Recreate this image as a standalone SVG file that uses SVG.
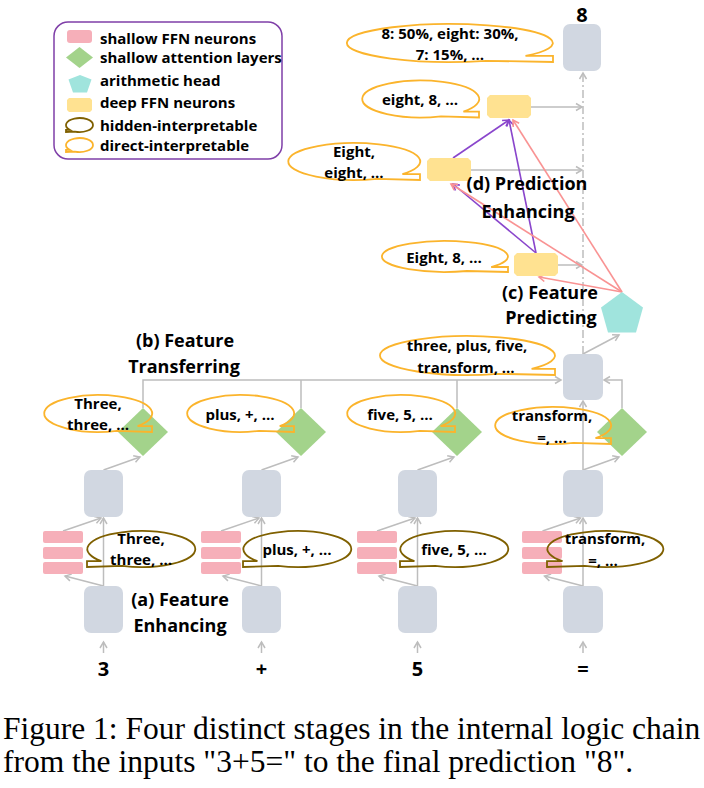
<svg xmlns="http://www.w3.org/2000/svg" width="704" height="788" viewBox="0 0 704 788">
<defs>
<style>
.box{fill:#D1D7E1}
.ffn{fill:#F6AFB9}
.att{fill:#A3D38B}
.deep{fill:#FFE291}
.ar{fill:#A0E4DD}
.dir{fill:none;stroke:#FBB42C;stroke-width:1.8}
.hid{fill:none;stroke:#7F6000;stroke-width:1.8}
.g{fill:none;stroke:#BDBDBD;stroke-width:1.5}
.pu{fill:none;stroke:#8A46CC;stroke-width:1.6}
.pk{fill:none;stroke:#F99393;stroke-width:1.6}
text{font-family:"Open Sans","Liberation Sans",sans-serif;font-weight:bold;fill:#000}
.t{font-size:15px;text-anchor:middle}
.lg{font-size:15px}
.s{font-size:18px;text-anchor:middle}
.io{font-size:20px;text-anchor:middle}
.cap{font-family:"Liberation Serif","Times New Roman",serif;font-weight:normal;font-size:31.5px}
</style>
<marker id="ag" markerWidth="10" markerHeight="10" refX="8" refY="5" orient="auto" markerUnits="userSpaceOnUse"><path d="M2,1.5 L8,5 L2,8.5" fill="none" stroke="#BDBDBD" stroke-width="1.5"/></marker>
<marker id="ap" markerWidth="10" markerHeight="10" refX="8" refY="5" orient="auto" markerUnits="userSpaceOnUse"><path d="M2,1.5 L8,5 L2,8.5" fill="none" stroke="#8A46CC" stroke-width="1.6"/></marker>
<marker id="ak" markerWidth="10" markerHeight="10" refX="8" refY="5" orient="auto" markerUnits="userSpaceOnUse"><path d="M2,1.5 L8,5 L2,8.5" fill="none" stroke="#F99393" stroke-width="1.6"/></marker>
</defs>
<rect width="704" height="788" fill="#fff"/>

<g id="legend">
<rect x="54" y="22" width="228" height="137" rx="14" fill="#fff" stroke="#7F3FA8" stroke-width="1.5"/>
<rect class="ffn" x="67" y="30" width="25" height="13" rx="3"/>
<polygon class="att" points="79.5,47 93,57.5 79.5,68 66,57.5"/>
<polygon class="ar" points="80,75 91.5,79.5 87,92.5 73,92.5 68.5,79.5"/>
<polygon class="deep" points="69,98 90,98 92,100 92,110 90,112 69,112 67,110 67,100"/>
<path class="hid" d="M69.6,129.8 A13.5,7 0 1 1 74.8,131.6 L66,132 L66,129.8 Z"/>
<path class="dir" d="M69.6,149.8 A13.5,7 0 1 1 74.8,151.6 L66,152 L66,149.8 Z"/>
<text class="lg" x="100" y="44">shallow FFN neurons</text>
<text class="lg" x="100" y="63">shallow attention layers</text>
<text class="lg" x="100" y="86">arithmetic head</text>
<text class="lg" x="100" y="108">deep FFN neurons</text>
<text class="lg" x="100" y="131">hidden-interpretable</text>
<text class="lg" x="100" y="151">direct-interpretable</text>
</g>

<g id="connectors">
<g class="g">
<path d="M103.5,653 V642" marker-end="url(#ag)"/>
<path d="M103.5,586 V518" marker-end="url(#ag)"/>
<path d="M103.5,586 L65,576" marker-end="url(#ag)"/>
<path d="M63,531 L101,518" marker-end="url(#ag)"/>
<path d="M103.5,470 L140,457" marker-end="url(#ag)"/>
<path d="M261.5,653 V642" marker-end="url(#ag)"/>
<path d="M261.5,586 V518" marker-end="url(#ag)"/>
<path d="M261.5,586 L223,576" marker-end="url(#ag)"/>
<path d="M221,531 L259,518" marker-end="url(#ag)"/>
<path d="M261.5,470 L298,457" marker-end="url(#ag)"/>
<path d="M417.5,653 V642" marker-end="url(#ag)"/>
<path d="M417.5,586 V518" marker-end="url(#ag)"/>
<path d="M417.5,586 L379,576" marker-end="url(#ag)"/>
<path d="M377,531 L415,518" marker-end="url(#ag)"/>
<path d="M417.5,470 L454,457" marker-end="url(#ag)"/>
<path d="M583,653 V642" marker-end="url(#ag)"/>
<path d="M583,586 V518" marker-end="url(#ag)"/>
<path d="M583,586 L544.5,576" marker-end="url(#ag)"/>
<path d="M542.5,531 L580.5,518" marker-end="url(#ag)"/>
<path d="M583,470 L619,457" marker-end="url(#ag)"/>
<path d="M143,408 V380 H561" marker-end="url(#ag)"/>
<path d="M301,408 V380"/>
<path d="M457,408 V380"/>
<path d="M622,408 V380 H604" marker-end="url(#ag)"/>
<path d="M583,470 V401" marker-end="url(#ag)"/>
<path d="M583,354 L619,335" marker-end="url(#ag)"/>
<path d="M583,354 V73" stroke-dasharray="8,3,2,3" marker-end="url(#ag)"/>
<path d="M531,107 H582" marker-end="url(#ag)"/>
<path d="M471,170 H582" marker-end="url(#ag)"/>
<path d="M558,265 H582" marker-end="url(#ag)"/>
</g>
<g class="pu">
<path d="M453,158 L509,120" marker-end="url(#ap)"/>
<path d="M536,253 L509,120" marker-end="url(#ap)"/>
<path d="M536,253 L453,184" marker-end="url(#ap)"/>
</g>
<g class="pk">
<path d="M622,292 L513,120" marker-end="url(#ak)"/>
<path d="M622,292 L451,184" marker-end="url(#ak)"/>
<path d="M622,292 L539,277" marker-end="url(#ak)"/>
</g>
</g>

<g id="col1">
<rect class="box" x="84" y="586" width="39" height="47" rx="7"/>
<rect class="box" x="84" y="470" width="39" height="47" rx="7"/>
<rect class="ffn" x="43" y="531" width="40" height="12" rx="2"/>
<rect class="ffn" x="43" y="547" width="40" height="12" rx="2"/>
<rect class="ffn" x="43" y="562" width="40" height="12" rx="2"/>
<polygon class="att" points="143,408 168,432 143,456 118,432"/>
</g>
<g id="col2">
<rect class="box" x="242" y="586" width="39" height="47" rx="7"/>
<rect class="box" x="242" y="470" width="39" height="47" rx="7"/>
<rect class="ffn" x="201" y="531" width="40" height="12" rx="2"/>
<rect class="ffn" x="201" y="547" width="40" height="12" rx="2"/>
<rect class="ffn" x="201" y="562" width="40" height="12" rx="2"/>
<polygon class="att" points="301,408 326,432 301,456 276,432"/>
</g>
<g id="col3">
<rect class="box" x="398" y="586" width="39" height="47" rx="7"/>
<rect class="box" x="398" y="470" width="39" height="47" rx="7"/>
<rect class="ffn" x="357" y="531" width="40" height="12" rx="2"/>
<rect class="ffn" x="357" y="547" width="40" height="12" rx="2"/>
<rect class="ffn" x="357" y="562" width="40" height="12" rx="2"/>
<polygon class="att" points="457,408 482,432 457,456 432,432"/>
</g>
<g id="col4">
<rect class="box" x="563" y="586" width="40" height="47" rx="7"/>
<rect class="box" x="563" y="470" width="40" height="47" rx="7"/>
<rect class="ffn" x="522" y="531" width="40" height="12" rx="2"/>
<rect class="ffn" x="522" y="547" width="40" height="12" rx="2"/>
<rect class="ffn" x="522" y="562" width="40" height="12" rx="2"/>
<polygon class="att" points="622,408 647,432 622,456 597,432"/>
</g>
<g id="upper-box"><rect class="box" x="563" y="354" width="40" height="46" rx="7"/></g>
<g id="final-box"><rect class="box" x="563" y="24" width="38" height="47" rx="7"/></g>
<g id="arith-head"><polygon class="ar" points="622,292 643,307.5 636,332.5 608,332.5 601,307.5"/></g>
<g id="deep1"><polygon class="deep" points="490,95 528,95 531,98 531,115 528,118 490,118 487,115 487,98"/></g>
<g id="deep2"><polygon class="deep" points="430,158 468,158 471,161 471,178 468,181 430,181 427,178 427,161"/></g>
<g id="deep3"><polygon class="deep" points="517,253 555,253 558,256 558,273 555,276 517,276 514,273 514,256"/></g>

<g id="balloons-direct">
<path class="dir" d="M525.5,55.9 A103,19 0 1 0 486,60.8 L553,62 L553,55.9 Z"/>
<path class="dir" d="M463.4,111.6 A58.5,18.5 0 1 0 441,116.3 L479,117.5 L479,111.6 Z"/>
<path class="dir" d="M402.4,174.1 A66,18.5 0 1 0 377.1,178.8 L420,180 L420,174.1 Z"/>
<path class="dir" d="M491.2,267 A63,15.5 0 1 0 467,271 L508,272 L508,267 Z"/>
<path class="dir" d="M531.6,368.8 A87.5,19.5 0 1 0 498.1,373.8 L555,375 L555,368.8 Z"/>
<path class="dir" d="M137.6,426.1 A54,18.5 0 1 0 116.9,430.8 L152,432 L152,426.1 Z"/>
<path class="dir" d="M279.7,426.1 A53.5,18.5 0 1 0 259.2,430.8 L294,432 L294,426.1 Z"/>
<path class="dir" d="M440.6,426.1 A54,18.5 0 1 0 419.9,430.8 L455,432 L455,426.1 Z"/>
<path class="dir" d="M595.5,438.1 A58,18.5 0 1 0 573.3,442.8 L611,444 L611,438.1 Z"/>
</g>
<g id="balloons-hidden">
<path class="hid" d="M101.4,561.2 A54,18 0 1 1 122.1,565.9 L87,567 L87,561.2 Z"/>
<path class="hid" d="M257.4,561.2 A54,18 0 1 1 278.1,565.9 L243,567 L243,561.2 Z"/>
<path class="hid" d="M414.4,561.2 A54,18 0 1 1 435.1,565.9 L400,567 L400,561.2 Z"/>
<path class="hid" d="M562.5,561.2 A58,18 0 1 1 584.7,565.9 L547,567 L547,561.2 Z"/>
</g>

<g id="balloon-texts">
<text class="t" x="450" y="39">8: 50%, eight: 30%,</text>
<text class="t" x="450" y="60">7: 15%, …</text>
<text class="t" x="420" y="105">eight, 8, …</text>
<text class="t" x="354" y="157">Eight,</text>
<text class="t" x="354" y="178">eight, …</text>
<text class="t" x="444" y="263">Eight, 8, …</text>
<text class="t" x="467" y="351">three, plus, five,</text>
<text class="t" x="466" y="373">transform, …</text>
<text class="t" x="98" y="409">Three,</text>
<text class="t" x="98" y="430">three, …</text>
<text class="t" x="240" y="420">plus, +, …</text>
<text class="t" x="400" y="420">five, 5, …</text>
<text class="t" x="552" y="421">transform,</text>
<text class="t" x="552" y="443">=, …</text>
<text class="t" x="141" y="544">Three,</text>
<text class="t" x="141" y="565">three, …</text>
<text class="t" x="297" y="555">plus, +, …</text>
<text class="t" x="454" y="555">five, 5, …</text>
<text class="t" x="605" y="544">transform,</text>
<text class="t" x="603" y="566">=, …</text>
</g>

<g id="stage-labels">
<text class="s" x="180" y="606">(a) Feature</text>
<text class="s" x="180" y="632">Enhancing</text>
<text class="s" x="185" y="347">(b) Feature</text>
<text class="s" x="184" y="373">Transferring</text>
<text class="s" x="550" y="299">(c) Feature</text>
<text class="s" x="551" y="324">Predicting</text>
<text class="s" x="527" y="190">(d) Prediction</text>
<text class="s" x="528" y="218">Enhancing</text>
</g>

<g id="io-labels">
<text class="io" x="582" y="22">8</text>
<text class="io" x="103.5" y="676">3</text>
<text class="io" x="261.5" y="676">+</text>
<text class="io" x="417.5" y="676">5</text>
<text class="io" x="583" y="676">=</text>
</g>

<g id="caption">
<text class="cap" x="3" y="739">Figure 1: Four distinct stages in the internal logic chain</text>
<text class="cap" x="3" y="772">from the inputs "3+5=" to the final prediction "8".</text>
</g>
</svg>
